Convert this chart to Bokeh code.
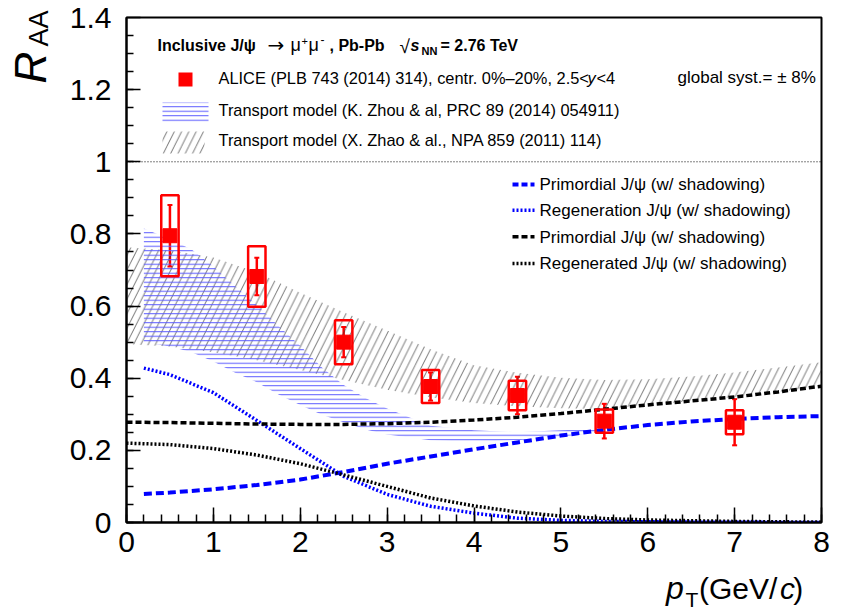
import math
from bokeh.plotting import figure
from bokeh.layouts import row, column
from bokeh.models import (ColumnDataSource, Whisker, TeeHead, Label, BoxAnnotation,
                          Span, FixedTicker, Range1d)
from bokeh.embed import file_html
from bokeh.resources import INLINE

# ---------------- data ----------------
pt = [0.5, 1.5, 2.5, 3.5, 4.5, 5.5, 7.0]
raa = [0.795, 0.682, 0.500, 0.377, 0.352, 0.281, 0.278]
stat_err = [0.085, 0.052, 0.042, 0.039, 0.052, 0.048, 0.064]
syst_err = [0.112, 0.084, 0.061, 0.046, 0.041, 0.032, 0.033]

zhou_band_pt = [0.2, 0.5, 0.75, 1.0, 1.25, 1.5, 1.75, 2.0, 2.25, 2.5, 2.75, 3.0, 3.5, 4.0, 4.5, 5.0, 5.5]
zhou_band_hi = [0.815, 0.785, 0.757, 0.710, 0.655, 0.603, 0.545, 0.490, 0.430, 0.381, 0.345, 0.316, 0.268, 0.256, 0.250, 0.256, 0.260]
zhou_band_lo = [0.500, 0.488, 0.472, 0.446, 0.415, 0.389, 0.355, 0.326, 0.299, 0.278, 0.258, 0.244, 0.228, 0.224, 0.228, 0.238, 0.252]

zhao_band_pt = [0.0, 0.5, 1.0, 1.5, 2.0, 2.5, 3.0, 3.5, 4.0, 4.5, 5.0, 5.5, 6.0, 6.5, 7.0, 7.5, 8.0]
zhao_band_hi = [0.763, 0.755, 0.735, 0.694, 0.637, 0.583, 0.532, 0.480, 0.436, 0.415, 0.401, 0.395, 0.397, 0.405, 0.416, 0.430, 0.444]
zhao_band_lo = [0.495, 0.488, 0.472, 0.450, 0.423, 0.395, 0.368, 0.347, 0.331, 0.322, 0.317, 0.315, 0.326, 0.337, 0.348, 0.362, 0.378]

zhou_curve_pt = [0.2, 0.5, 1.0, 1.5, 2.0, 2.5, 3.0, 3.5, 4.0, 4.5, 5.0, 5.5, 6.0, 6.5, 7.0, 7.5, 8.0]
zhou_prim = [0.079, 0.083, 0.092, 0.104, 0.119, 0.140, 0.163, 0.183, 0.203, 0.222, 0.241, 0.257, 0.270, 0.280, 0.287, 0.292, 0.295]
zhou_regen = [0.428, 0.410, 0.360, 0.283, 0.205, 0.128, 0.078, 0.045, 0.026, 0.012, 0.006, 0.003, 0.002, 0.001, 0.001, 0.000, 0.000]

zhao_curve_pt = [0.0, 0.5, 1.0, 1.5, 2.0, 2.5, 3.0, 3.5, 4.0, 4.5, 5.0, 5.5, 6.0, 6.5, 7.0, 7.5, 8.0]
zhao_prim = [0.278, 0.277, 0.275, 0.273, 0.272, 0.272, 0.274, 0.278, 0.284, 0.292, 0.302, 0.314, 0.326, 0.337, 0.348, 0.362, 0.378]
zhao_regen = [0.220, 0.216, 0.205, 0.187, 0.163, 0.132, 0.100, 0.068, 0.046, 0.029, 0.018, 0.011, 0.007, 0.005, 0.003, 0.002, 0.001]

x_ticks = [0, 1, 2, 3, 4, 5, 6, 7, 8]
y_ticks = [0, 0.2, 0.4, 0.6, 0.8, 1.0, 1.2, 1.4]
y_tick_labels = ["0", "0.2", "0.4", "0.6", "0.8", "1", "1.2", "1.4"]

legend_top = [
    "ALICE (PLB 743 (2014) 314), centr. 0%\u201320%, 2.5<",
    "Transport model (K. Zhou & al, PRC 89 (2014) 054911)",
    "Transport model (X. Zhao & al., NPA 859 (2011) 114)",
]
legend_right = [
    "Primordial J/\u03c8 (w/ shadowing)",
    "Regeneration J/\u03c8 (w/ shadowing)",
    "Primordial J/\u03c8 (w/ shadowing)",
    "Regenerated J/\u03c8 (w/ shadowing)",
]

# ---------------- layout (page px) ----------------
W, H = 847, 614
LEFT_W = 60          # strip holding the y title
BOT_H = 48           # strip holding the x title
FL, FR, FT, FB = 126, 821, 17, 522
XMAX, YMAX = 8.0, 1.4
K = 0.33             # baseline correction (fraction of font size)
BX_SHIFT = 8         # horizontal correction for the bottom strip


def X(px):
    return (px - FL) / (FR - FL) * XMAX


def Y(py):
    return (FB - py) / (FB - FT) * YMAX


FONT = "Liberation Sans"
BLUE = "#0000ff"
HATCH_BLUE = "#5a5aff"
HATCH_BLACK = "#333333"
BLACK_HATCH_SCALE = 14.6

MAIN_W, MAIN_H = W - LEFT_W, H - BOT_H
p = figure(width=MAIN_W, height=MAIN_H, output_backend="svg", toolbar_location=None,
           x_range=Range1d(0, XMAX), y_range=Range1d(0, YMAX),
           min_border_left=FL - LEFT_W, min_border_right=W - FR,
           min_border_top=FT, min_border_bottom=MAIN_H - FB)
p.background_fill_color = "white"
p.border_fill_color = "white"
p.xgrid.visible = False
p.ygrid.visible = False
p.outline_line_color = "black"
p.outline_line_width = 2

# axes
p.xaxis.ticker = FixedTicker(ticks=x_ticks, minor_ticks=[i * 0.2 for i in range(41)])
p.yaxis.ticker = FixedTicker(ticks=y_ticks, minor_ticks=[i * 0.05 for i in range(29)])
p.yaxis.major_label_overrides = {t: l for t, l in zip(y_ticks, y_tick_labels)}
p.xaxis.major_label_overrides = {t: str(t) for t in x_ticks}
for ax in (p.xaxis, p.yaxis):
    ax.axis_line_width = 2
    ax.axis_line_color = "black"
    ax.major_tick_line_color = "black"
    ax.minor_tick_line_color = "black"
    ax.major_tick_line_width = 1.5
    ax.minor_tick_line_width = 1.5
    ax.major_tick_out = 0
    ax.minor_tick_out = 0
    ax.major_label_text_font = FONT
    ax.major_label_text_font_size = "30px"
    ax.major_label_text_color = "black"
p.xaxis.major_tick_in = 15
p.xaxis.minor_tick_in = 8
p.yaxis.major_tick_in = 14
p.yaxis.minor_tick_in = 7
p.xaxis.major_label_standoff = 9
p.yaxis.major_label_standoff = 15

# bands
p.varea(x=zhao_band_pt, y1=zhao_band_lo, y2=zhao_band_hi, fill_alpha=0,
        hatch_pattern="/", hatch_color=HATCH_BLACK, hatch_weight=0.7,
        hatch_scale=BLACK_HATCH_SCALE)
p.varea(x=zhou_band_pt, y1=zhou_band_lo, y2=zhou_band_hi, fill_alpha=0,
        hatch_pattern="-", hatch_color=HATCH_BLUE, hatch_weight=1, hatch_scale=4.5)

# y = 1 reference
p.add_layout(Span(location=1.0, dimension="width", line_color="black",
                  line_width=1, line_dash="1 2"))

# model curves
p.line(zhou_curve_pt, zhou_prim, line_color=BLUE, line_width=4, line_dash="8 4")
p.line(zhou_curve_pt, zhou_regen, line_color=BLUE, line_width=3.5, line_dash="2 2")
p.line(zhao_curve_pt, zhao_prim, line_color="black", line_width=3.5, line_dash="6 3")
p.line(zhao_curve_pt, zhao_regen, line_color="black", line_width=3.5, line_dash="2 2")

# data
src = ColumnDataSource(dict(
    pt=pt, raa=raa,
    stat_lo=[v - e for v, e in zip(raa, stat_err)],
    stat_hi=[v + e for v, e in zip(raa, stat_err)],
    syst_c=raa,
    syst_h=[2 * e for e in syst_err],
))
p.rect(x="pt", y="syst_c", width=0.2, height="syst_h", source=src,
       fill_alpha=0, line_color="red", line_width=2.5)
p.add_layout(Whisker(base="pt", lower="stat_lo", upper="stat_hi", source=src,
                     line_color="red", line_width=2.5,
                     lower_head=TeeHead(size=5, line_color="red", line_width=2),
                     upper_head=TeeHead(size=5, line_color="red", line_width=2)))
p.scatter(x="pt", y="raa", source=src, marker="square", size=14,
          fill_color="red", line_color="red")


def label(fig, x, y, text, size, style="normal", angle=0.0, font=FONT, align="left"):
    fig.add_layout(Label(x=x, y=y, text=text, text_font=font,
                         text_font_size=f"{size}px", text_font_style=style,
                         text_color="black", angle=angle, text_align=align,
                         text_baseline="alphabetic"))


def mlabel(px, base, text, size, style="normal", font=FONT):
    # base = wanted baseline (page px)
    label(p, X(px), Y(base - K * size), text, size, style, font=font)


# title line
mlabel(157, 50, "Inclusive J/\u03c8", 16, "bold")
mlabel(267, 51, "\u2192", 20, font="DejaVu Sans")
mlabel(290, 50, "\u03bc", 18)
mlabel(301, 44, "+", 11)
mlabel(308, 50, "\u03bc", 18)
mlabel(320, 43, "-", 12)
mlabel(329, 50, ", Pb-Pb", 16, "bold")
mlabel(399, 52, "\u221a", 19)
mlabel(410, 50, "s", 16, "bold italic")
mlabel(421, 54, "NN", 11, "bold")
mlabel(440, 50, "= 2.76 TeV", 16, "bold")

# top legend
p.add_layout(BoxAnnotation(left=X(178), right=X(192), top=Y(72), bottom=Y(86),
                           fill_color="red", fill_alpha=1, line_alpha=0))
p.add_layout(BoxAnnotation(left=X(162), right=X(208), top=Y(102), bottom=Y(122),
                           fill_alpha=0, line_alpha=0, hatch_pattern="-",
                           hatch_color=HATCH_BLUE, hatch_weight=1, hatch_scale=4.5))
p.add_layout(BoxAnnotation(left=X(162), right=X(204), top=Y(131), bottom=Y(153),
                           fill_alpha=0, line_alpha=0, hatch_pattern="/",
                           hatch_color=HATCH_BLACK, hatch_weight=0.7,
                           hatch_scale=BLACK_HATCH_SCALE))
mlabel(218, 83, legend_top[0], 16.4)
mlabel(587, 83, "y", 16.4, "italic")
mlabel(596, 83, "<4", 16.4)
mlabel(677, 82.5, "global syst.= \u00b1 8%", 17)
mlabel(218, 115, legend_top[1], 16.4)
mlabel(218, 144.5, legend_top[2], 16.4)

# right legend
rows = [190, 215.7, 242.3, 269]
styles = [(BLUE, 4, "6 3"), (BLUE, 3.5, "2 2"), ("black", 3.5, "6 3"), ("black", 3.5, "2 2")]
for rb, (c, w, d), txt in zip(rows, styles, legend_right):
    p.line([X(512), X(534)], [Y(rb - 6), Y(rb - 6)], line_color=c, line_width=w, line_dash=d)
    mlabel(539, rb, txt, 17)

# ---------------- y-title strip (left) ----------------
ly = figure(width=LEFT_W, height=H, output_backend="svg", toolbar_location=None,
            x_range=Range1d(0, LEFT_W), y_range=Range1d(0, H),
            x_axis_type=None, y_axis_type=None, min_border=0)
ly.outline_line_color = None
ly.xgrid.visible = False
ly.ygrid.visible = False
# rotated text: baseline correction goes along x
label(ly, 46 - 0.36 * 44, H - 83, "R", 44, "italic", angle=math.pi / 2)
label(ly, 48 - 0.36 * 27, H - 46, "AA", 27, angle=math.pi / 2)

# ---------------- x-title strip (bottom) ----------------
bx = figure(width=MAIN_W, height=BOT_H, output_backend="svg", toolbar_location=None,
            x_range=Range1d(LEFT_W, W), y_range=Range1d(0, BOT_H),
            x_axis_type=None, y_axis_type=None, min_border=0)
bx.outline_line_color = None
bx.xgrid.visible = False
bx.ygrid.visible = False


def blabel(px, base, text, size, style="normal", align="left"):
    label(bx, px + BX_SHIFT, H - (base - K * size), text, size, style, align=align)


blabel(663, 598, "p", 32, "italic")
blabel(685, 606, "T", 21)
blabel(789, 598, "(GeV/", 30, align="right")
blabel(792, 598, "c", 30, "italic")
blabel(807, 598, ")", 30)

layout = row(ly, column(p, bx, spacing=0), spacing=0)
open("out.html", "w").write(file_html(layout, INLINE))
